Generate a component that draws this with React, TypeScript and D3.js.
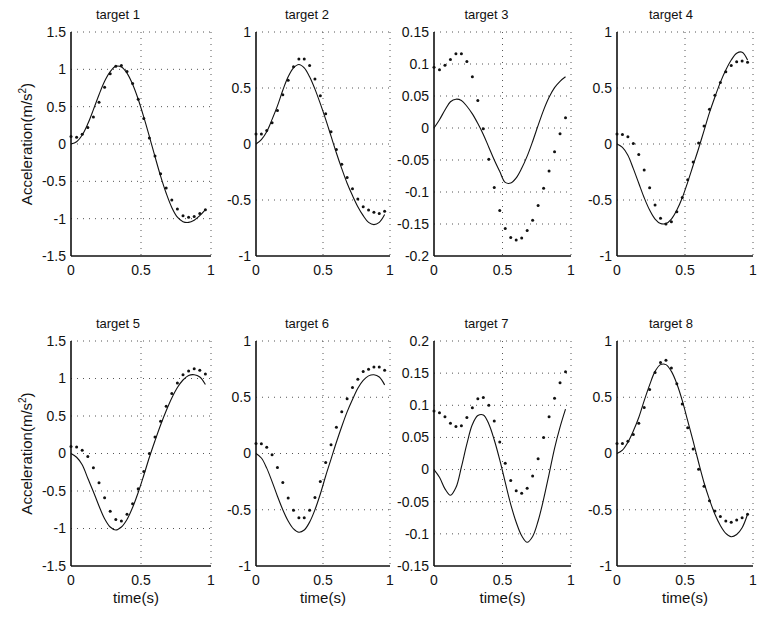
import React from 'react';
import * as d3 from 'd3';

// sample instants (s) shared by every trace
const sampleTimes = [0, 0.04, 0.08, 0.12, 0.16, 0.2, 0.24, 0.28, 0.32, 0.36, 0.4, 0.44, 0.48,
  0.52, 0.56, 0.6, 0.64, 0.68, 0.72, 0.76, 0.8, 0.84, 0.88, 0.92, 0.96];

const titles = ['target 1', 'target 2', 'target 3', 'target 4', 'target 5', 'target 6', 'target 7', 'target 8'];

// solid = model, dots = measured
const model1 = [0, 0.03, 0.12, 0.27, 0.46, 0.66, 0.84, 0.97, 1.04, 1.03, 0.95, 0.8, 0.6, 0.36, 0.1, -0.17, -0.43, -0.66, -0.85, -0.98, -1.04, -1.05, -1.02, -0.96, -0.88];
const measured1 = [0.1, 0.09, 0.13, 0.22, 0.36, 0.56, 0.76, 0.94, 1.04, 1.05, 0.97, 0.81, 0.6, 0.34, 0.08, -0.16, -0.4, -0.59, -0.75, -0.87, -0.96, -0.98, -0.97, -0.93, -0.88];

const model2 = [0, 0.04, 0.11, 0.22, 0.34, 0.48, 0.6, 0.68, 0.71, 0.68, 0.6, 0.49, 0.36, 0.22, 0.07, -0.08, -0.22, -0.35, -0.46, -0.56, -0.64, -0.7, -0.72, -0.7, -0.63];
const measured2 = [0.09, 0.09, 0.12, 0.19, 0.3, 0.44, 0.57, 0.69, 0.76, 0.76, 0.7, 0.58, 0.43, 0.27, 0.11, -0.05, -0.18, -0.3, -0.4, -0.49, -0.56, -0.59, -0.61, -0.62, -0.6];

const model3 = [0, 0.013, 0.028, 0.041, 0.045, 0.043, 0.034, 0.022, 0.007, -0.01, -0.03, -0.05, -0.068, -0.085, -0.086, -0.078, -0.063, -0.044, -0.021, 0.004, 0.028, 0.048, 0.063, 0.073, 0.08];
const measured3 = [0.095, 0.091, 0.098, 0.107, 0.116, 0.116, 0.104, 0.08, 0.043, -0.001, -0.049, -0.093, -0.129, -0.157, -0.171, -0.175, -0.172, -0.16, -0.144, -0.121, -0.094, -0.067, -0.037, -0.009, 0.016];

const model4 = [0, -0.03, -0.1, -0.22, -0.35, -0.48, -0.59, -0.67, -0.71, -0.71, -0.67, -0.59, -0.48, -0.34, -0.19, -0.04, 0.12, 0.28, 0.42, 0.55, 0.66, 0.75, 0.81, 0.82, 0.75];
const measured4 = [0.09, 0.085, 0.064, 0.004, -0.094, -0.233, -0.39, -0.545, -0.664, -0.715, -0.694, -0.605, -0.477, -0.32, -0.16, 0.01, 0.16, 0.31, 0.435, 0.55, 0.646, 0.7, 0.735, 0.74, 0.73];

const model5 = [0, -0.05, -0.15, -0.33, -0.51, -0.7, -0.87, -0.98, -1.02, -0.98, -0.88, -0.72, -0.52, -0.29, -0.05, 0.17, 0.38, 0.57, 0.74, 0.88, 0.98, 1.04, 1.05, 1.02, 0.92];
const measured5 = [0.095, 0.087, 0.042, -0.04, -0.19, -0.39, -0.59, -0.77, -0.88, -0.9, -0.81, -0.67, -0.47, -0.24, 0, 0.22, 0.43, 0.63, 0.8, 0.94, 1.05, 1.1, 1.13, 1.11, 1.06];

const model6 = [0, -0.04, -0.13, -0.25, -0.38, -0.5, -0.6, -0.67, -0.7, -0.68, -0.61, -0.5, -0.36, -0.2, -0.05, 0.1, 0.24, 0.37, 0.48, 0.58, 0.65, 0.69, 0.7, 0.68, 0.61];
const measured6 = [0.09, 0.086, 0.056, -0.012, -0.124, -0.257, -0.395, -0.504, -0.572, -0.572, -0.504, -0.39, -0.248, -0.08, 0.077, 0.233, 0.372, 0.487, 0.587, 0.66, 0.73, 0.75, 0.77, 0.77, 0.74];

const model7 = [0, -0.012, -0.03, -0.04, -0.028, 0.004, 0.04, 0.07, 0.084, 0.085, 0.071, 0.046, 0.015, -0.02, -0.054, -0.082, -0.103, -0.113, -0.104, -0.08, -0.046, -0.007, 0.033, 0.066, 0.094];
const measured7 = [0.091, 0.0885, 0.082, 0.072, 0.067, 0.068, 0.081, 0.096, 0.11, 0.112, 0.1, 0.0755, 0.043, 0.0097, -0.017, -0.033, -0.037, -0.029, -0.01, 0.017, 0.05, 0.082, 0.111, 0.135, 0.152];

const model8 = [0, 0.03, 0.1, 0.2, 0.32, 0.47, 0.61, 0.73, 0.79, 0.79, 0.73, 0.62, 0.47, 0.29, 0.11, -0.08, -0.26, -0.41, -0.54, -0.64, -0.71, -0.74, -0.72, -0.66, -0.54];
const measured8 = [0.09, 0.09, 0.11, 0.17, 0.27, 0.41, 0.57, 0.72, 0.81, 0.83, 0.76, 0.62, 0.44, 0.23, 0.04, -0.14, -0.29, -0.42, -0.51, -0.56, -0.6, -0.61, -0.59, -0.57, -0.54];

const models = [model1, model2, model3, model4, model5, model6, model7, model8];
const measured = [measured1, measured2, measured3, measured4, measured5, measured6, measured7, measured8];

const ticksWide = [-1.5, -1, -0.5, 0, 0.5, 1, 1.5];
const ticksUnit = [-1, -0.5, 0, 0.5, 1];
const ticksTarget3 = [-0.2, -0.15, -0.1, -0.05, 0, 0.05, 0.1, 0.15];
const ticksTarget7 = [-0.15, -0.1, -0.05, 0, 0.05, 0.1, 0.15, 0.2];
const yTicks = [ticksWide, ticksUnit, ticksTarget3, ticksUnit, ticksWide, ticksUnit, ticksTarget7, ticksUnit];
const xTicks = [0, 0.5, 1];

// layout (scan is slightly uneven, so columns differ a bit)
const colLeft = [71, 256, 434, 617];
const colWidth = [140, 134, 137, 136];
const rowTop = [32, 341];
const rowBottom = [256, 566];
const titleShift = [-23, -16, -16, -14];
const font = '"Liberation Sans", Arial, Helvetica, sans-serif';
const fmt = (v: number) => String(+v.toFixed(2));

function Panel({ idx }: { idx: number }) {
  const col = idx % 4, row = Math.floor(idx / 4);
  const left = colLeft[col], right = left + colWidth[col];
  const top = rowTop[row], bottom = rowBottom[row];
  const yt = yTicks[idx];
  const x = d3.scaleLinear().domain([0, 1]).range([left, right]);
  const y = d3.scaleLinear().domain([yt[0], yt[yt.length - 1]]).range([bottom, top]);
  const line = d3.line<number>()
    .x((_, k) => x(sampleTimes[k]))
    .y(d => y(d))
    .curve(d3.curveCatmullRom.alpha(0.5));
  return (
    <g>
      {yt.slice(1).map(v => (
        <line key={'gy' + v} x1={left} x2={right} y1={y(v)} y2={y(v)} stroke="#555" strokeWidth={1} strokeDasharray="1,5" />
      ))}
      {xTicks.slice(1).map(v => (
        <line key={'gx' + v} x1={x(v)} x2={x(v)} y1={top} y2={bottom} stroke="#555" strokeWidth={1} strokeDasharray="1,5" />
      ))}
      <path d={line(models[idx]) || ''} fill="none" stroke="#111" strokeWidth={1.1} />
      {measured[idx].map((v, k) => (
        <circle key={k} cx={x(sampleTimes[k])} cy={y(v)} r={1.5} fill="#111" />
      ))}
      <line x1={left} x2={left} y1={top} y2={bottom} stroke="#111" strokeWidth={1.6} />
      <line x1={left} x2={right} y1={bottom} y2={bottom} stroke="#111" strokeWidth={1.6} />
      {yt.map(v => (
        <text key={'ty' + v} x={left - 5} y={y(v)} dy="0.35em" textAnchor="end" fontSize={14} fill="#111">{fmt(v)}</text>
      ))}
      {xTicks.map(v => (
        <text key={'tx' + v} x={x(v)} y={bottom + 19} textAnchor="middle" fontSize={14} fill="#111">{fmt(v)}</text>
      ))}
      <text x={(left + right) / 2 + titleShift[col]} y={top - 13} textAnchor="middle" fontSize={13} fill="#111">{titles[idx]}</text>
      {col === 0 && (
        <text transform={`translate(32,${(top + bottom) / 2}) rotate(-90)`} textAnchor="middle" fontSize={15} fill="#111">
          Acceleration(m/s<tspan dy={-6} fontSize={10}>2</tspan><tspan dy={6}>)</tspan>
        </text>
      )}
      {row === 1 && (
        <text x={(left + right) / 2 + (col === 0 ? -5 : 0)} y={603} textAnchor="middle" fontSize={15} fill="#111">time(s)</text>
      )}
    </g>
  );
}

export default function App() {
  return (
    <svg width={757} height={619} style={{ position: 'absolute', left: 0, top: 0, background: '#fff', fontFamily: font }}>
      {titles.map((_, i) => <Panel key={i} idx={i} />)}
    </svg>
  );
}
